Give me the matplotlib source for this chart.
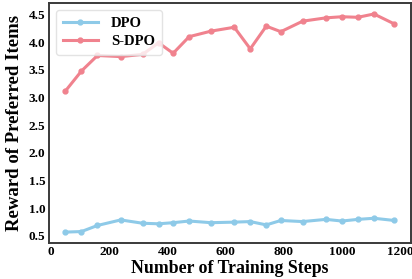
import matplotlib
matplotlib.use("Agg")
import matplotlib.pyplot as plt

# training steps at which the rewards were logged
steps = [50, 105, 160, 240, 315, 370, 420, 475, 550, 630,
         685, 740, 790, 865, 945, 1000, 1055, 1110, 1180]

# reward of preferred items
dpo = [0.57, 0.58, 0.69, 0.79, 0.73, 0.72, 0.74, 0.77, 0.74, 0.75,
       0.76, 0.70, 0.78, 0.76, 0.80, 0.77, 0.80, 0.82, 0.78]
sdpo = [3.12, 3.48, 3.76, 3.74, 3.78, 3.99, 3.80, 4.10, 4.20, 4.27,
        3.88, 4.29, 4.19, 4.38, 4.44, 4.46, 4.45, 4.51, 4.33]

xticks = [0, 200, 400, 600, 800, 1000, 1200]
yticks = [0.5, 1.0, 1.5, 2.0, 2.5, 3.0, 3.5, 4.0, 4.5]


def main():
    plt.rcParams['font.family'] = 'Liberation Serif'
    plt.rcParams['font.weight'] = 'bold'

    fig = plt.figure(figsize=(4.12, 2.79), dpi=100)
    ax = fig.add_axes([0.119, 0.129, 0.878, 0.86])

    ax.plot(steps, dpo, color='#8ECAE8', lw=2.2, marker='o', ms=3.5, label='DPO')
    ax.plot(steps, sdpo, color='#F0828E', lw=2.2, marker='o', ms=3.5, label='S-DPO')

    # axes:
    ax.set_xticks(xticks)
    ax.set_yticks(yticks)
    ax.tick_params(length=0, labelsize=9.5, pad=2.5)
    for lbl in ax.get_xticklabels() + ax.get_yticklabels():
        lbl.set_fontweight('bold')
    for sp in ax.spines.values():
        sp.set_color('#3a3a3a')
        sp.set_linewidth(1.4)

    # labels:
    ax.set_xlabel('Number of Training Steps', fontsize=12.8, fontweight='bold', labelpad=1)
    ax.set_ylabel('Reward of Preferred Items', fontsize=13.5, fontweight='bold', labelpad=4)

    leg = ax.legend(loc='upper left', fontsize=10.5, handlelength=2.4,
                    borderpad=0.45, labelspacing=0.35, handletextpad=0.9,
                    frameon=True)
    leg.get_frame().set_edgecolor('#dddddd')
    for t in leg.get_texts():
        t.set_fontweight('bold')

    fig.savefig('out.png', dpi=100)


if __name__ == "__main__":
    main()
